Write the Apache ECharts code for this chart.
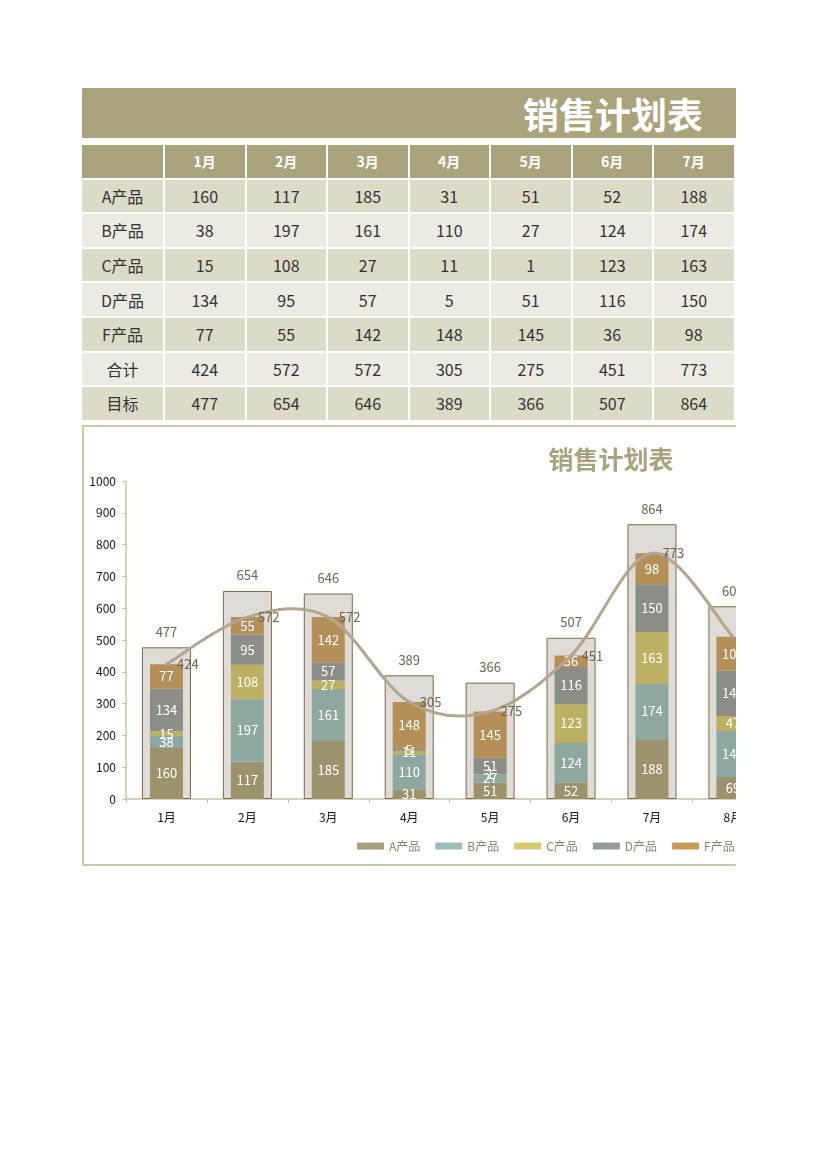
<!DOCTYPE html>
<html>
<head>
<meta charset="utf-8">
<script src="https://cdn.jsdelivr.net/npm/echarts@6/dist/echarts.min.js"></script>
<style>
html,body{margin:0;padding:0;background:#fff;}
body{width:827px;height:1170px;position:relative;font-family:"Noto Sans CJK SC","Noto Sans",sans-serif;}
#clip{position:absolute;left:82px;top:88px;width:654px;height:782px;overflow:hidden;}
#banner{position:absolute;left:0;top:0;width:1062px;height:50px;background:#a9a47b;color:#fff;font-weight:bold;font-size:36px;line-height:50px;text-align:center;}
#tbl{position:absolute;left:0;top:57px;width:1058px;height:280px;}
.cell{position:absolute;box-sizing:border-box;border-right:2px solid #fff;border-bottom:2px solid #fff;display:flex;align-items:center;justify-content:center;font-size:16px;color:#333;}
.hd{color:#fff;font-weight:bold;font-size:14px;background:#a9a47b;}
#chart{position:absolute;left:0;top:337px;width:1058px;height:441px;}
#frame{position:absolute;left:0;top:337px;width:1058px;height:441px;box-sizing:border-box;border:2px solid #cdc9a6;pointer-events:none;}
</style>
</head>
<body>
<div id="clip">
  <div id="banner">销售计划表</div>
  <div id="tbl"></div>
  <div id="chart"></div>
  <div id="frame"></div>
</div>
<script>
// ---- data ----
const chartTitle = '销售计划表';
const months = ['1月','2月','3月','4月','5月','6月','7月','8月','9月','10月','11月','12月'];
const productNames = ['A产品','B产品','C产品','D产品','F产品'];
const productA = [160, 117, 185, 31, 51, 52, 188, 69];
const productB = [38, 197, 161, 110, 27, 124, 174, 145];
const productC = [15, 108, 27, 11, 1, 123, 163, 47];
const productD = [134, 95, 57, 5, 51, 116, 150, 143];
const productF = [77, 55, 142, 148, 145, 36, 98, 106];
const totals  = [424, 572, 572, 305, 275, 451, 773, 510];
const targets = [477, 654, 646, 389, 366, 507, 864, 606];
const totalLabel = '合计';
const targetLabel = '目标';
const yMin = 0, yMax = 1000, yStep = 100;

// ---- styles ----
const FONT = '"Noto Sans CJK SC","Noto Sans",sans-serif';
const barColors = ['#9c926c', '#8ea8a1', '#bcb163', '#8a8e86', '#b48f58'];
const legendColors = ['#a59f7c', '#9dbdbd', '#d5cb6c', '#929d96', '#c99a57'];
const curveColor = '#b3a690';

// ---- table ----
(function buildTable(){
  const tbl = document.getElementById('tbl');
  const rows = [
    [productNames[0], productA], [productNames[1], productB], [productNames[2], productC],
    [productNames[3], productD], [productNames[4], productF], [totalLabel, totals], [targetLabel, targets]
  ];
  const nCols = productA.length;
  const labelW = 83, colW = 81.5, rowH = 34.6;
  const dark = '#dcdbc8', light = '#ebebe4';
  function cell(x, y, w, h, text, cls, bg){
    const d = document.createElement('div');
    d.className = 'cell' + (cls ? ' ' + cls : '');
    d.style.left = x + 'px'; d.style.top = y + 'px';
    d.style.width = w + 'px'; d.style.height = h + 'px';
    if (bg) d.style.background = bg;
    d.textContent = text;
    tbl.appendChild(d);
  }
  cell(0, 0, labelW, rowH, '', 'hd');
  for (let c = 0; c < nCols; c++) cell(labelW + c * colW, 0, colW, rowH, months[c], 'hd');
  rows.forEach((r, i) => {
    const y = (i + 1) * rowH;
    const bg = i % 2 === 0 ? dark : light;
    cell(0, y, labelW, rowH, r[0], '', bg);
    for (let c = 0; c < nCols; c++) cell(labelW + c * colW, y, colW, rowH, String(r[1][c]), '', bg);
  });
})();

// ---- chart ----
const chart = echarts.init(document.getElementById('chart'), null, {renderer: 'canvas'});
const productData = [productA, productB, productC, productD, productF];
const series = [{
  name: targetLabel, type: 'bar', xAxisIndex: 1, data: targets, barWidth: 49, z: 1, silent: true,
  itemStyle: {color: '#dfdbd6', borderColor: '#7d6a45', borderWidth: 1},
  label: {show: true, position: 'top', distance: 9, color: '#6b6450', fontSize: 13, fontFamily: FONT}
}];
productData.forEach((arr, i) => {
  series.push({
    name: productNames[i], type: 'bar', stack: 'sum', xAxisIndex: 0, data: arr, barWidth: 33, z: 2,
    itemStyle: {color: barColors[i]},
    label: {show: true, position: 'inside', color: '#fff', fontSize: 13, fontFamily: FONT}
  });
});
// smooth total curve (Excel-like Catmull-Rom smoothing), positioned through the axes
series.push({
  name: totalLabel + '曲线', type: 'custom', xAxisIndex: 0, yAxisIndex: 0, z: 5, silent: true,
  data: totals.map((v, i) => [i, v]),
  encode: {x: 0, y: 1},
  renderItem: function (params, api) {
    if (params.dataIndex !== 0) return null;
    const pts = totals.map((v, i) => api.coord([i, v]));
    const children = [];
    for (let i = 0; i < pts.length - 1; i++) {
      const p0 = pts[Math.max(i - 1, 0)], p1 = pts[i], p2 = pts[i + 1], p3 = pts[Math.min(i + 2, pts.length - 1)];
      children.push({
        type: 'bezierCurve',
        shape: {
          x1: p1[0], y1: p1[1], x2: p2[0], y2: p2[1],
          cpx1: p1[0] + (p2[0] - p0[0]) / 6, cpy1: p1[1] + (p2[1] - p0[1]) / 6,
          cpx2: p2[0] - (p3[0] - p1[0]) / 6, cpy2: p2[1] - (p3[1] - p1[1]) / 6
        },
        style: {stroke: curveColor, lineWidth: 3, fill: null, lineCap: 'round'}
      });
    }
    return {type: 'group', children: children};
  }
});
// labels for totals
series.push({
  name: totalLabel, type: 'line', xAxisIndex: 0, data: totals, z: 6, silent: true,
  symbol: 'circle', symbolSize: 1, showSymbol: true,
  itemStyle: {color: 'rgba(0,0,0,0)'},
  lineStyle: {opacity: 0, width: 0},
  label: {show: true, position: 'right', distance: 10, color: '#6b6450', fontSize: 13, fontFamily: FONT}
});

chart.setOption({
  animation: false,
  title: {text: chartTitle, left: 'center', top: 17,
    textStyle: {color: '#a8a37b', fontSize: 25, fontWeight: 'bold', fontFamily: FONT}},
  legend: {left: 270, top: 410, itemWidth: 27, itemHeight: 7, itemGap: 15,
    textStyle: {color: '#8a8470', fontSize: 12, fontFamily: FONT},
    data: productNames.map((n, i) => ({name: n, icon: 'rect', itemStyle: {color: legendColors[i]}}))},
  grid: {left: 44, right: 43, top: 56, bottom: 67},
  xAxis: [
    {type: 'category', data: months,
      axisLine: {lineStyle: {color: '#c9c4a2', width: 1.5}},
      axisTick: {show: true, length: 4, lineStyle: {color: '#c9c4a2'}},
      axisLabel: {color: '#111', fontSize: 12, margin: 12, fontFamily: FONT}},
    {type: 'category', data: months, show: false}
  ],
  yAxis: {type: 'value', min: yMin, max: yMax, interval: yStep,
    axisLine: {show: true, lineStyle: {color: '#c9c4a2', width: 1.5}},
    axisTick: {show: true, length: 4, lineStyle: {color: '#c9c4a2'}},
    axisLabel: {color: '#111', fontSize: 12, margin: 10, fontFamily: FONT, formatter: v => String(v)},
    splitLine: {show: false}},
  series: series
});
</script>
</body>
</html>
